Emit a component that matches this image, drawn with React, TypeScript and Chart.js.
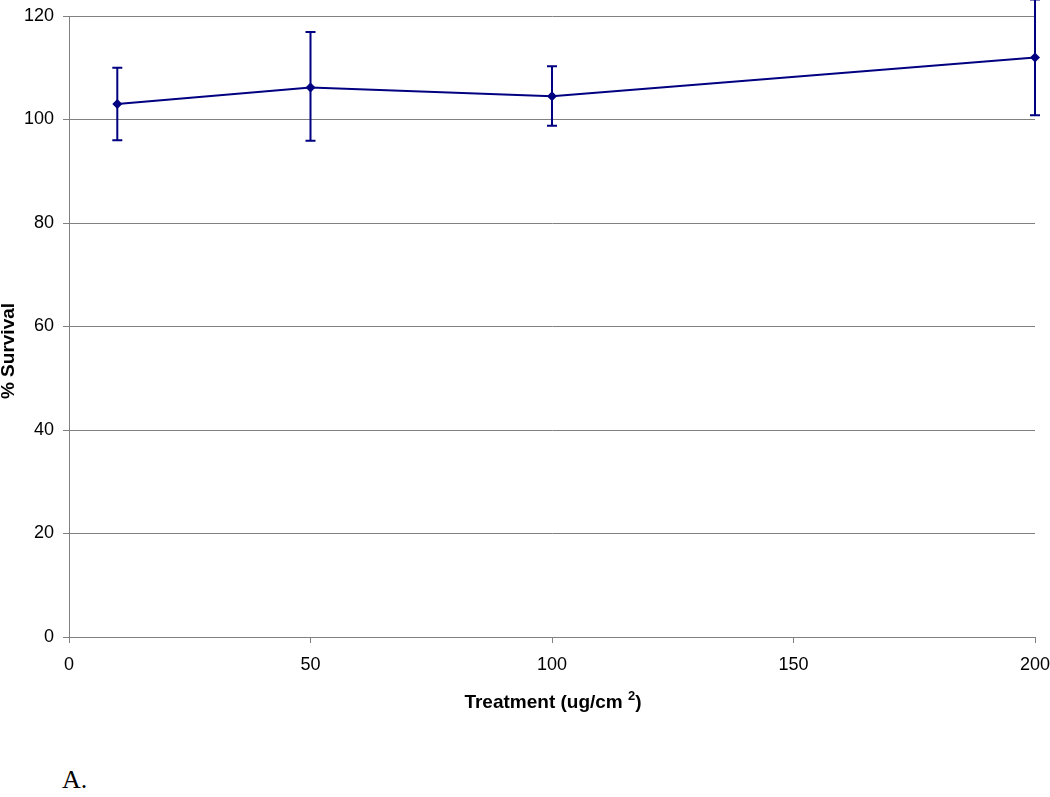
import React, { useEffect, useRef } from "react";
import { Chart, registerables } from "chart.js";

Chart.register(...registerables);

const treatments = [10, 50, 100, 200];
const survival = [103.0, 106.2, 104.5, 112.0];
const errLow = [96.0, 95.9, 98.8, 100.8];
const errHigh = [110.0, 116.9, 110.3, 123.2];
const xTicks = [0, 50, 100, 150, 200];
const yTicks = [0, 20, 40, 60, 80, 100, 120];

const NAVY = "#000080";
const GRID = "#808080";
const FONT = "'Liberation Sans', Arial, sans-serif";

const errorBarPlugin = {
  id: "errorBars",
  afterDatasetsDraw(chart: any) {
    const ctx = chart.ctx;
    const xs = chart.scales.x;
    const ys = chart.scales.y;
    ctx.save();
    ctx.strokeStyle = NAVY;
    ctx.lineWidth = 2;
    for (let i = 0; i < treatments.length; i++) {
      const x = xs.getPixelForValue(treatments[i]);
      const yl = ys.getPixelForValue(errLow[i]);
      const yh = ys.getPixelForValue(errHigh[i]);
      ctx.beginPath();
      ctx.moveTo(x, yl);
      ctx.lineTo(x, yh);
      ctx.moveTo(x - 5, yl);
      ctx.lineTo(x + 5, yl);
      ctx.moveTo(x - 5, yh);
      ctx.lineTo(x + 5, yh);
      ctx.stroke();
    }
    ctx.restore();
  },
};

const titlesPlugin = {
  id: "axisTitles",
  afterDraw(chart: any) {
    const ctx = chart.ctx;
    const area = chart.chartArea;
    ctx.save();
    ctx.fillStyle = "#000";
    ctx.font = `bold 19px ${FONT}`;
    ctx.textAlign = "center";
    ctx.textBaseline = "middle";
    ctx.translate(9, 351);
    ctx.rotate(-Math.PI / 2);
    ctx.fillText("% Survival", 0, 0);
    ctx.restore();

    ctx.save();
    ctx.fillStyle = "#000";
    ctx.textBaseline = "alphabetic";
    ctx.textAlign = "left";
    const main = "Treatment (ug/cm ";
    const sup = "2";
    const end = ")";
    ctx.font = `bold 19px ${FONT}`;
    const wMain = ctx.measureText(main).width;
    const wEnd = ctx.measureText(end).width;
    ctx.font = `bold 13px ${FONT}`;
    const wSup = ctx.measureText(sup).width;
    const total = wMain + wSup + wEnd;
    const cx = 553;
    let x = cx - total / 2;
    const base = 708;
    ctx.font = `bold 19px ${FONT}`;
    ctx.fillText(main, x, base);
    x += wMain;
    ctx.font = `bold 13px ${FONT}`;
    ctx.fillText(sup, x, base - 8);
    x += wSup;
    ctx.font = `bold 19px ${FONT}`;
    ctx.fillText(end, x, base);
    ctx.restore();
  },
};

export default function App() {
  const ref = useRef<HTMLCanvasElement | null>(null);
  useEffect(() => {
    if (!ref.current) return;
    const chart = new Chart(ref.current, {
      type: "line",
      data: {
        datasets: [
          {
            data: treatments.map((t, i) => ({ x: t, y: survival[i] })),
            borderColor: NAVY,
            backgroundColor: NAVY,
            borderWidth: 2,
            pointStyle: "rectRot",
            pointRadius: 5,
            pointBorderWidth: 0,
            pointBackgroundColor: NAVY,
            tension: 0,
            clip: false,
          },
        ],
      },
      options: {
        responsive: false,
        animation: false,
        events: [],
        layout: { padding: { top: 16, right: 15, left: 0, bottom: 0 } },
        plugins: {
          legend: { display: false },
          tooltip: { enabled: false },
        },
        scales: {
          x: {
            type: "linear",
            min: 0,
            max: 200,
            afterBuildTicks: (s: any) => {
              s.ticks = xTicks.map((v) => ({ value: v }));
            },
            afterFit: (s: any) => {
              s.height = 83;
              s.paddingLeft = 0;
              s.paddingRight = 0;
            },
            grid: {
              drawOnChartArea: false,
              drawTicks: true,
              tickLength: 6,
              color: GRID,
            },
            border: { display: true, color: GRID, width: 1 },
            ticks: {
              color: "#000",
              font: { family: FONT, size: 18 },
              padding: 11,
              maxRotation: 0,
            },
          },
          y: {
            min: 0,
            max: 120,
            afterBuildTicks: (s: any) => {
              s.ticks = yTicks.map((v) => ({ value: v }));
            },
            afterFit: (s: any) => {
              s.width = 69;
              s.paddingTop = 0;
              s.paddingBottom = 0;
            },
            grid: {
              drawOnChartArea: true,
              drawTicks: true,
              tickLength: 6,
              color: GRID,
            },
            border: { display: true, color: GRID, width: 1 },
            ticks: {
              color: "#000",
              font: { family: FONT, size: 18 },
              padding: 9,
            },
          },
        },
      },
      plugins: [errorBarPlugin, titlesPlugin],
    } as any);
    return () => chart.destroy();
  }, []);

  return (
    <div style={{ position: "absolute", left: 0, top: 0, width: 1050, height: 797, background: "#fff" }}>
      <canvas ref={ref} width={1050} height={720} style={{ display: "block" }} />
      <div
        style={{
          position: "absolute",
          left: 62,
          top: 765,
          fontFamily: "'Liberation Serif', 'Times New Roman', serif",
          fontSize: 26,
          lineHeight: "30px",
          color: "#000",
        }}
      >
        A.
      </div>
    </div>
  );
}
